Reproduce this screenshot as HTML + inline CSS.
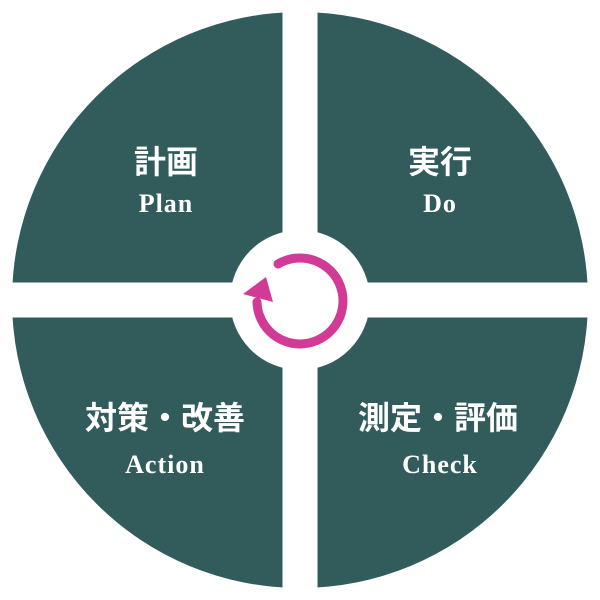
<!DOCTYPE html>
<html><head><meta charset="utf-8"><style>html,body{margin:0;padding:0;background:#fff}svg{display:block}</style></head>
<body>
<svg width="600" height="600" viewBox="0 0 600 600" xmlns="http://www.w3.org/2000/svg">
<circle cx="300" cy="300" r="288" fill="#325b5c"/>
<rect x="282.5" y="0" width="35" height="600" fill="#fff"/>
<rect x="0" y="282.5" width="600" height="35" fill="#fff"/>
<circle cx="300" cy="300" r="70" fill="#fff"/>
<path d="M278 264 A43 43 0 1 1 257 302" fill="none" stroke="#d13b96" stroke-width="9" stroke-linecap="round"/>
<polygon points="243,294 266,277 273,302" fill="#d13b96"/>
<g fill="#fff" text-anchor="middle">
<text x="166" y="173" font-family="Liberation Sans, Noto Sans CJK JP, sans-serif" font-weight="bold" font-size="32">計画</text>
<text x="166" y="212" font-family="Liberation Serif, serif" font-weight="bold" font-size="26" letter-spacing="1">Plan</text>
<text x="440" y="173" font-family="Liberation Sans, Noto Sans CJK JP, sans-serif" font-weight="bold" font-size="32">実行</text>
<text x="440" y="212" font-family="Liberation Serif, serif" font-weight="bold" font-size="26" letter-spacing="1">Do</text>
<text x="165" y="429" font-family="Liberation Sans, Noto Sans CJK JP, sans-serif" font-weight="bold" font-size="32">対策・改善</text>
<text x="165" y="473" font-family="Liberation Serif, serif" font-weight="bold" font-size="26" letter-spacing="1">Action</text>
<text x="438" y="429" font-family="Liberation Sans, Noto Sans CJK JP, sans-serif" font-weight="bold" font-size="32">測定・評価</text>
<text x="440" y="473" font-family="Liberation Serif, serif" font-weight="bold" font-size="26" letter-spacing="1">Check</text>
</g>
</svg>
</body></html>
